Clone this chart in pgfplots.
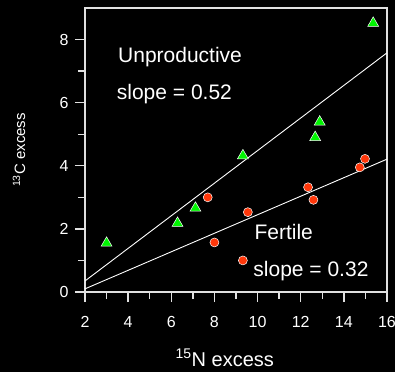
\documentclass[border=0pt]{standalone}
\usepackage{fontspec}
\setmainfont{Liberation Sans}
\usepackage{pgfplots}
\pgfplotsset{compat=1.18}
\definecolor{axgray}{RGB}{225,225,225}
\definecolor{mygreen}{RGB}{0,245,0}
\definecolor{myred}{RGB}{255,55,10}
\begin{document}
\begin{tikzpicture}
\fill[black] (-85bp,-80bp) rectangle (310bp,292bp);
\begin{axis}[
  at={(0,0)}, anchor=south west,
  scale only axis, width=302bp, height=284bp,
  xmin=2, xmax=16, ymin=0, ymax=9,
  axis line style={axgray, line width=1.4bp},
  xtick={2,4,...,16}, ytick={0,2,4,6,8},
  minor x tick num=1, minor y tick num=1,
  tick align=outside, tick pos=left,
  major tick length=10bp, minor tick length=7bp,
  tick style={axgray, line width=1.4bp},
  /pgf/number format/assume math mode=true,
  ticklabel style={font=\fontsize{16bp}{18bp}\selectfont, text=white},
  xticklabel style={yshift=-11bp},
  yticklabel style={xshift=-3bp},
  xlabel={\textsuperscript{15}N excess},
  xlabel style={font=\fontsize{20bp}{22bp}\selectfont, text=white, at={(axis description cs:0.463,-0.232)}, anchor=center},
  ylabel={\textsuperscript{13}C excess},
  ylabel style={font=\fontsize{15bp}{17bp}\selectfont, text=white, at={(axis description cs:-0.2185,0.5)}, anchor=center},
  clip=true,
]
\addplot[white, line width=0.9bp] coordinates {(2,0.35) (16,7.58)};
\addplot[white, line width=0.9bp] coordinates {(2,0.10) (16,4.21)};
\addplot[only marks, mark=triangle*, mark size=6.3bp, mark options={fill=mygreen, draw=white, line width=0.5bp}] coordinates {
(3.00,1.55) (6.29,2.18) (7.12,2.66) (9.32,4.32) (12.67,4.90) (12.88,5.39) (15.36,8.52)};
\addplot[only marks, mark=*, mark size=4.5bp, mark options={fill=myred, draw=white, line width=0.5bp}] coordinates {
(7.69,3.00) (9.55,2.53) (8.00,1.57) (9.32,1.00) (12.34,3.32) (12.59,2.92) (14.74,3.95) (14.98,4.22)};
\node[anchor=base west, inner sep=0, text=white, font=\fontsize{21bp}{24bp}\selectfont] at (axis cs:3.53,7.26) {Unproductive};
\node[anchor=base west, inner sep=0, text=white, font=\fontsize{21bp}{24bp}\selectfont] at (axis cs:3.47,6.10) {slope = 0.52};
\node[anchor=base west, inner sep=0, text=white, font=\fontsize{21bp}{24bp}\selectfont] at (axis cs:9.85,1.67) {Fertile};
\node[anchor=base west, inner sep=0, text=white, font=\fontsize{21bp}{24bp}\selectfont] at (axis cs:9.80,0.49) {slope = 0.32};
\end{axis}
\pgfresetboundingbox
\path[use as bounding box] (-85bp,-80bp) rectangle (310bp,292bp);
\end{tikzpicture}
\end{document}
